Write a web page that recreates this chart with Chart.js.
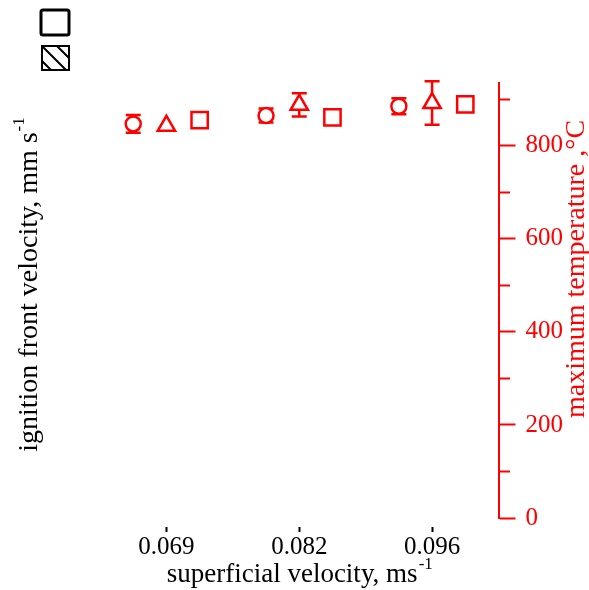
<!DOCTYPE html>
<html>
<head>
<meta charset="utf-8">
<script src="https://cdn.jsdelivr.net/npm/chart.js@4/dist/chart.umd.min.js"></script>
<style>
  html, body { margin: 0; padding: 0; background: #fff; }
</style>
</head>
<body>
<canvas id="grafico" width="589" height="590"></canvas>
<script>
// Datos
var categorias = ['0.069', '0.082', '0.096'];   // velocidad superficial, ms-1
var tempCirculo = [847, 865, 885];              // temperatura maxima, °C
var errCirculo = [19, 15, 17];
var tempTriangulo = [843, 888, 892];
var errTriangulo = [0, 25, 47];
var tempCuadrado = [855, 861, 889];
var ticksTemp = [0, 200, 400, 600, 800];

var ROJO = '#ff0000';
var FUENTE = 'Liberation Serif';
Chart.defaults.font.family = FUENTE;

function puntos(valores, desplazamiento) {
  return valores.map(function (v, i) { return { x: i + desplazamiento, y: v }; });
}

// Barras de error (se dibujan antes de los puntos)
var barrasError = {
  id: 'barrasError',
  beforeDatasetsDraw: function (chart) {
    var ctx = chart.ctx;
    var y = chart.scales.y;
    ctx.save();
    ctx.strokeStyle = ROJO;
    ctx.lineWidth = 2.5;
    chart.data.datasets.forEach(function (ds, d) {
      if (!ds.errores) return;
      var meta = chart.getDatasetMeta(d);
      meta.data.forEach(function (p, i) {
        var e = ds.errores[i];
        if (!e) return;
        var v = ds.data[i].y;
        var y1 = y.getPixelForValue(v - e), y2 = y.getPixelForValue(v + e);
        ctx.beginPath();
        ctx.moveTo(p.x, y1); ctx.lineTo(p.x, y2);
        ctx.moveTo(p.x - 7.5, y1); ctx.lineTo(p.x + 7.5, y1);
        ctx.moveTo(p.x - 7.5, y2); ctx.lineTo(p.x + 7.5, y2);
        ctx.stroke();
      });
    });
    ctx.restore();
  }
};

// Texto con superindice, centrado en (x, y) y girado
function textoSup(ctx, base, sup, x, y, giro, color, tam) {
  var tamSup = Math.round(tam * 0.62);
  ctx.save();
  ctx.translate(x, y);
  ctx.rotate(giro);
  ctx.fillStyle = color;
  ctx.textBaseline = 'middle';
  ctx.textAlign = 'left';
  ctx.font = tam + 'px "' + FUENTE + '"';
  var w1 = ctx.measureText(base).width;
  ctx.font = tamSup + 'px "' + FUENTE + '"';
  var w2 = sup ? ctx.measureText(sup).width : 0;
  var x0 = -(w1 + w2) / 2;
  ctx.font = tam + 'px "' + FUENTE + '"';
  ctx.fillText(base, x0, 0);
  if (sup) {
    ctx.font = tamSup + 'px "' + FUENTE + '"';
    ctx.fillText(sup, x0 + w1 + 1, -tam * 0.38);
  }
  ctx.restore();
}

var titulosYLeyenda = {
  id: 'titulosYLeyenda',
  afterDraw: function (chart) {
    var ctx = chart.ctx;
    var a = chart.chartArea;
    var cx = (a.left + a.right) / 2;
    textoSup(ctx, 'superficial velocity, ms', '-1', cx, 575, 0, '#000', 27);
    textoSup(ctx, 'ignition front velocity, mm s', '-1', 30, 285, -Math.PI / 2, '#000', 28);
    textoSup(ctx, 'maximum temperature ,°C', '', 577, 269, -Math.PI / 2, ROJO, 28);

    // leyenda sin texto
    ctx.save();
    ctx.strokeStyle = '#000';
    ctx.lineWidth = 3;
    ctx.beginPath();
    ctx.roundRect(41, 10, 28, 25, 2);
    ctx.stroke();
    ctx.lineWidth = 2;
    ctx.strokeRect(42, 46, 27, 24);
    ctx.save();
    ctx.beginPath();
    ctx.rect(42, 46, 27, 24);
    ctx.clip();
    ctx.beginPath();
    for (var k = -30; k <= 30; k += 15) {
      ctx.moveTo(42 + k, 46);
      ctx.lineTo(42 + k + 27, 46 + 27);
    }
    ctx.stroke();
    ctx.restore();
    ctx.restore();
  }
};

var ctx = document.getElementById('grafico').getContext('2d');

var grafico = new Chart(ctx, {
  type: 'scatter',
  data: {
    datasets: [
      {
        label: 'circulo',
        data: puntos(tempCirculo, -0.25),
        errores: errCirculo,
        pointStyle: 'circle',
        pointRadius: 7.5,
        borderColor: ROJO,
        backgroundColor: '#fff',
        borderWidth: 2.5
      },
      {
        label: 'triangulo',
        data: puntos(tempTriangulo, 0),
        errores: errTriangulo,
        pointStyle: 'triangle',
        pointRadius: 10,
        borderColor: ROJO,
        backgroundColor: '#fff',
        borderWidth: 2.5
      },
      {
        label: 'cuadrado',
        data: puntos(tempCuadrado, 0.25),
        pointStyle: 'rect',
        pointRadius: 11.5,
        borderColor: ROJO,
        backgroundColor: '#fff',
        borderWidth: 2.5
      }
    ]
  },
  options: {
    responsive: false,
    animation: false,
    layout: { padding: { left: 100, top: 83, right: 16, bottom: 28 } },
    plugins: {
      legend: { display: false },
      tooltip: { enabled: false }
    },
    scales: {
      x: {
        type: 'linear',
        min: -0.5,
        max: 2.5,
        afterBuildTicks: function (scale) {
          scale.ticks = categorias.map(function (c, i) { return { value: i }; });
        },
        ticks: {
          autoSkip: false,
          maxRotation: 0,
          color: '#000',
          padding: 0,
          font: { size: 25 },
          callback: function (v) { return categorias[v]; }
        },
        grid: {
          drawOnChartArea: false,
          tickLength: 14,
          tickColor: '#000',
          tickWidth: 2,
          tickBorderDash: [0, 9, 5, 100]
        },
        border: { display: false }
      },
      y: {
        position: 'right',
        min: 0,
        max: 935,
        ticks: {
          stepSize: 100,
          includeBounds: false,
          autoSkip: false,
          color: ROJO,
          padding: 10,
          font: { size: 25 },
          callback: function (v) { return ticksTemp.indexOf(v) >= 0 ? String(v) : ''; }
        },
        grid: {
          drawOnChartArea: false,
          tickLength: 17,
          tickColor: ROJO,
          tickWidth: 2,
          tickBorderDash: function (c) {
            return ticksTemp.indexOf(c.tick.value) >= 0 ? [] : [10, 100];
          }
        },
        border: { display: true, color: ROJO, width: 2 }
      }
    }
  },
  plugins: [barrasError, titulosYLeyenda]
});
</script>
</body>
</html>
